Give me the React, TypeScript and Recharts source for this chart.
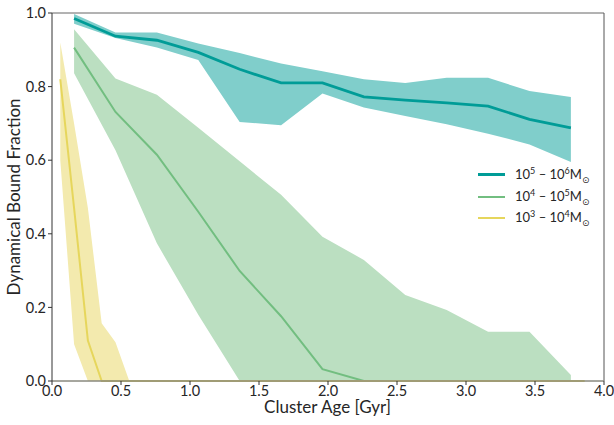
import React from "react";
import {
  Area,
  ComposedChart,
  Line,
  ReferenceLine,
  XAxis,
  YAxis,
} from "recharts";

// cluster ages [Gyr] sampled for the two heavier mass bins
const AGE_WIDE = [0.16, 0.46, 0.76, 1.06, 1.36, 1.66, 1.96, 2.26, 2.56, 2.86, 3.16, 3.46, 3.76];
// finer sampling for the light bin
const AGE_FINE = [
  0.06, 0.16, 0.26, 0.36, 0.46, 0.56, 0.66, 0.76, 0.86, 0.96, 1.06, 1.16, 1.26,
  1.36, 1.46, 1.56, 1.66, 1.76, 1.86, 1.96, 2.06, 2.16, 2.26, 2.36, 2.46, 2.56,
  2.66, 2.76, 2.86, 2.96, 3.06, 3.16, 3.26, 3.36, 3.46, 3.56, 3.66, 3.76, 3.86,
];

const HIGH_MID = [0.985, 0.937, 0.926, 0.893, 0.847, 0.81, 0.81, 0.772, 0.763, 0.756, 0.747, 0.711, 0.688];
const HIGH_UP = [0.997, 0.947, 0.947, 0.917, 0.891, 0.863, 0.842, 0.82, 0.81, 0.824, 0.824, 0.788, 0.772];
const HIGH_LO = [0.971, 0.932, 0.906, 0.872, 0.704, 0.695, 0.781, 0.743, 0.72, 0.698, 0.672, 0.643, 0.595];

const MID_MID = [0.906, 0.731, 0.615, 0.46, 0.299, 0.176, 0.032, 0, 0, 0, 0, 0, 0];
const MID_UP = [0.956, 0.822, 0.778, 0.688, 0.597, 0.506, 0.392, 0.329, 0.234, 0.193, 0.134, 0.134, 0.016];
const MID_LO = [0.836, 0.627, 0.374, 0.18, 0, 0, 0, 0, 0, 0, 0, 0, 0];

const LOW_MID = [
  0.82, 0.47, 0.11, 0, 0, 0, 0, 0, 0, 0, 0, 0, 0, 0, 0, 0, 0, 0, 0, 0, 0, 0, 0,
  0, 0, 0, 0, 0, 0, 0, 0, 0, 0, 0, 0, 0, 0, 0, 0,
];
const LOW_UP = [
  0.92, 0.7, 0.47, 0.157, 0.105, 0, 0, 0, 0, 0, 0, 0, 0, 0, 0, 0, 0, 0, 0, 0, 0,
  0, 0, 0, 0, 0, 0, 0, 0, 0, 0, 0, 0, 0, 0, 0, 0, 0, 0,
];
const LOW_LO = [
  0.6, 0.1, 0, 0, 0, 0, 0, 0, 0, 0, 0, 0, 0, 0, 0, 0, 0, 0, 0, 0, 0, 0, 0, 0, 0,
  0, 0, 0, 0, 0, 0, 0, 0, 0, 0, 0, 0, 0, 0,
];

const X_TICKS = [0, 0.5, 1, 1.5, 2, 2.5, 3, 3.5, 4];
const Y_TICKS = [0, 0.2, 0.4, 0.6, 0.8, 1];

const SERIES = [
  { key: "high", lo: "5", hi: "6", line: "#009c97", fill: "#80cecb", width: 2.8 },
  { key: "mid", lo: "4", hi: "5", line: "#72be80", fill: "#bbdfc1", width: 2 },
  { key: "low", lo: "3", hi: "4", line: "#e6d65c", fill: "#f3eaae", width: 2 },
];

const rows = (ages: number[], mid: number[], lo: number[], up: number[]) =>
  ages.map((age, i) => ({ age, mid: mid[i], band: [lo[i], up[i]] }));

const highRows = rows(AGE_WIDE, HIGH_MID, HIGH_LO, HIGH_UP);
const midRows = rows(AGE_WIDE, MID_MID, MID_LO, MID_UP);
const lowRows = rows(AGE_FINE, LOW_MID, LOW_LO, LOW_UP);
const allRows = [highRows, midRows, lowRows];

const FONT = "Lato, 'DejaVu Sans', sans-serif";
const INK = "#262626";

function MassLegend() {
  return (
    <div
      style={{
        position: "absolute",
        left: 478,
        top: 164,
        fontFamily: FONT,
        fontSize: 13,
        color: INK,
      }}
    >
      {SERIES.map((s) => (
        <div
          key={s.key}
          style={{ display: "flex", alignItems: "center", height: 21.7 }}
        >
          <span
            style={{
              display: "inline-block",
              width: 27,
              height: s.width,
              background: s.line,
              marginRight: 10,
            }}
          />
          <span>
            10<sup style={{ fontSize: 9 }}>{s.lo}</sup> – 10
            <sup style={{ fontSize: 9 }}>{s.hi}</sup>M
            <sub style={{ fontSize: 9 }}>⊙</sub>
          </span>
        </div>
      ))}
    </div>
  );
}

function AxisTitles() {
  const style = { fill: INK, fontSize: 17, fontFamily: FONT };
  return (
    <svg
      width={614}
      height={425}
      style={{ position: "absolute", left: 0, top: 0, pointerEvents: "none" }}
    >
      <text x={327.6} y={413} textAnchor="middle" style={style}>
        Cluster Age [Gyr]
      </text>
      <text
        x={0}
        y={0}
        transform="translate(20,197) rotate(-90)"
        textAnchor="middle"
        style={style}
      >
        Dynamical Bound Fraction
      </text>
    </svg>
  );
}

export default function App() {
  const tick = { fill: INK, fontSize: 14.5, fontFamily: FONT };
  return (
    <div style={{ position: "absolute", left: 0, top: 0, width: 614, height: 425, background: "#fff" }}>
      <ComposedChart
        width={614}
        height={425}
        margin={{ top: 13, right: 10, bottom: 14, left: 12 }}
      >
        <XAxis
          dataKey="age"
          type="number"
          domain={[0, 4]}
          ticks={X_TICKS}
          allowDuplicatedCategory={false}
          tickFormatter={(v: number) => v.toFixed(1)}
          tick={tick}
          tickSize={4}
          tickMargin={1}
          height={30}
          axisLine={{ stroke: "#888" }}
          tickLine={{ stroke: "#333" }}
        />
        <YAxis
          type="number"
          domain={[0, 1]}
          ticks={Y_TICKS}
          tickFormatter={(v: number) => v.toFixed(1)}
          tick={tick}
          tickSize={4}
          width={40}
          axisLine={{ stroke: "#333" }}
          tickLine={{ stroke: "#333" }}
        />
        <ReferenceLine y={1} stroke="#666" />
        <ReferenceLine x={4} stroke="#555" />

        {SERIES.map((s, i) => [
          <Area
            key={s.key + "-band"}
            data={allRows[i]}
            dataKey="band"
            type="linear"
            stroke="none"
            fill={s.fill}
            fillOpacity={1}
            isAnimationActive={false}
          />,
          <Line
            key={s.key + "-line"}
            data={allRows[i]}
            dataKey="mid"
            type="linear"
            stroke={s.line}
            strokeWidth={s.width}
            dot={false}
            isAnimationActive={false}
          />,
        ])}
        <ReferenceLine y={0} stroke="#8a8a6a" strokeWidth={1} />
      </ComposedChart>
      <AxisTitles />
      <MassLegend />
    </div>
  );
}
